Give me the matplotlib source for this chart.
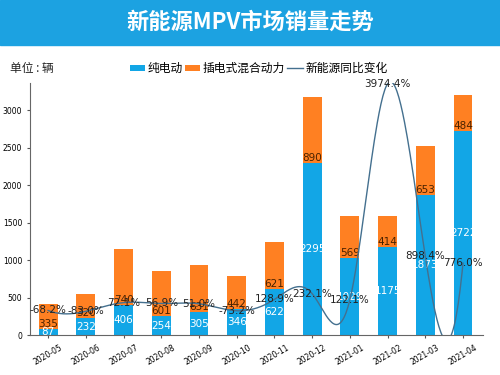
import numpy as np
import matplotlib
matplotlib.use("Agg")
import matplotlib.pyplot as plt

plt.rcParams['font.family'] = ['DejaVu Sans', 'Noto Sans CJK SC']

months = ['2020-05', '2020-06', '2020-07', '2020-08', '2020-09', '2020-10',
          '2020-11', '2020-12', '2021-01', '2021-02', '2021-03', '2021-04']
bev = [87, 232, 406, 254, 305, 346, 622, 2295, 1029, 1175, 1873, 2722]
phev = [335, 320, 740, 601, 631, 442, 621, 890, 569, 414, 653, 484]
yoy = [-68.2, -83.0, 72.1, 56.9, 51.0, -73.2, 128.9, 232.1, 122.1, 3974.4, 898.4, 776.0]

BLUE = '#12a6e6'
ORANGE = '#ff8022'
LINE = '#44708f'


def spline(y, n=40):
    # not-a-knot cubic spline on unit-spaced x
    y = np.asarray(y, dtype=float)
    k = len(y)
    A = np.zeros((k, k))
    b = np.zeros(k)
    A[0, :3] = [1, -2, 1]
    A[-1, -3:] = [1, -2, 1]
    for i in range(1, k - 1):
        A[i, i - 1:i + 2] = [1, 4, 1]
        b[i] = 6 * (y[i - 1] - 2 * y[i] + y[i + 1])
    M = np.linalg.solve(A, b)
    xs, ys = [], []
    for i in range(k - 1):
        t = np.linspace(0, 1, n, endpoint=(i == k - 2))
        s = (M[i] * (1 - t) ** 3 / 6 + M[i + 1] * t ** 3 / 6
             + (y[i] - M[i] / 6) * (1 - t) + (y[i + 1] - M[i + 1] / 6) * t)
        xs.append(i + t)
        ys.append(s)
    return np.concatenate(xs), np.concatenate(ys)


fig = plt.figure(figsize=(5, 3.75), dpi=100)
fig.patches.append(plt.Rectangle((0, 0.88), 1, 0.12, transform=fig.transFigure,
                                 color='#1ca2e1', zorder=0))
fig.text(0.5, 0.94, '新能源MPV市场销量走势', ha='center', va='center', color='white',
         fontsize=16, fontweight='bold', family='Noto Sans CJK SC')
fig.text(0.02, 0.818, '单位 : 辆', ha='left', va='center', fontsize=8.5,
         family='Noto Sans CJK SC', color='#222222')

ax = fig.add_axes([0.06, 0.106, 0.906, 0.673])
x = np.arange(len(months))
b1 = ax.bar(x, bev, 0.5, color=BLUE, label='纯电动')
b2 = ax.bar(x, phev, 0.5, bottom=bev, color=ORANGE, label='插电式混合动力')

for i in range(len(months)):
    ax.text(x[i], bev[i] / 2, str(bev[i]), ha='center', va='center',
            color='white', fontsize=7.5)
    ax.text(x[i], bev[i], str(phev[i]), ha='center', va='bottom',
            color='#4a2200', fontsize=7.5)

ax.set_xlim(-0.48, 11.53)
ax.set_ylim(0, 3368)
ax.set_xticks(x)
ax.set_xticklabels(months, rotation=30, fontsize=5.5)
ax.tick_params(axis='y', labelsize=5.5, length=2, color='#555555')
ax.tick_params(axis='x', length=2, color='#555555')
ax.spines['top'].set_visible(False)
ax.spines['right'].set_visible(False)
ax.spines['left'].set_color('#666666')
ax.spines['bottom'].set_color('#666666')

ax2 = ax.twinx()
sx, sy = spline(yoy)
ln, = ax2.plot(sx, sy, color=LINE, lw=1, label='新能源同比变化')
for i in range(len(months)):
    ax2.text(x[i], yoy[i], '%.1f%%' % yoy[i], ha='center', va='center',
             color='#222222', fontsize=7.5)
ax2.set_ylim(-510, 3990)
ax2.set_yticks([])
for s in ax2.spines.values():
    s.set_visible(False)

fig.legend(handles=[b1, b2, ln], loc='center left', bbox_to_anchor=(0.25, 0.818),
           ncol=3, frameon=False, handlelength=1.3, handleheight=0.4,
           handletextpad=0.2, columnspacing=0.2, borderaxespad=0,
           prop={'family': 'Noto Sans CJK SC', 'size': 8.5})

fig.savefig('out.png', dpi=100)
